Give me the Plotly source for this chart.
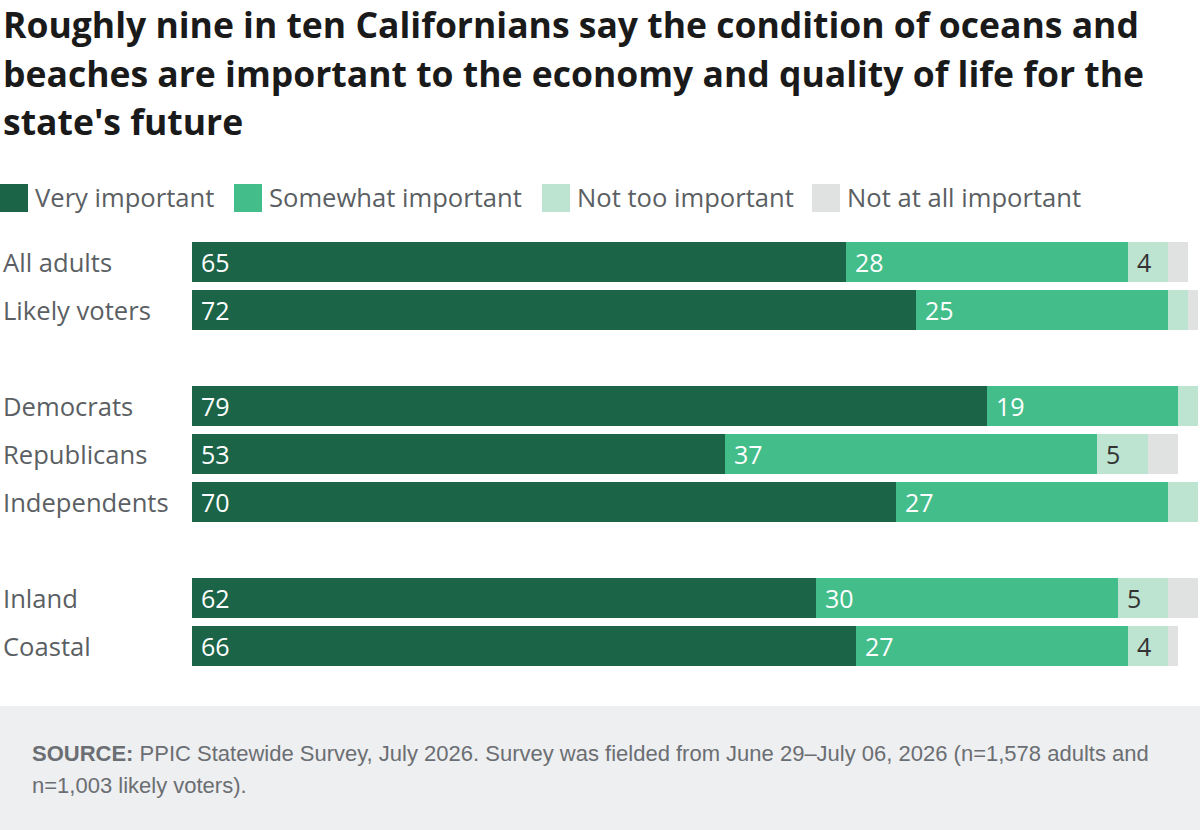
import plotly.graph_objects as go

categories = ["All adults", "Likely voters", "Democrats", "Republicans", "Independents", "Inland", "Coastal"]
row_pos = [0, 1, 3, 4, 5, 7, 8]

series_names = ["Very important", "Somewhat important", "Not too important", "Not at all important"]
very_important = [65, 72, 79, 53, 70, 62, 66]
somewhat_important = [28, 25, 19, 37, 27, 30, 27]
not_too_important = [4, 2, 2, 5, 3, 5, 4]
not_at_all_important = [2, 1, 0, 3, 0, 3, 1]

colors = ["#1b6448", "#43bd8a", "#bde3d1", "#dfe2e1"]
label_colors = ["#ffffff", "#ffffff", "#333333", "#333333"]

title_lines = [
    "Roughly nine in ten Californians say the condition of oceans and",
    "beaches are important to the economy and quality of life for the",
    "state's future",
]
source_lines = [
    "<b>SOURCE:</b> PPIC Statewide Survey, July 2026. Survey was fielded from June 29–July 06, 2026 (n=1,578 adults and",
    "n=1,003 likely voters).",
]

W, H = 1200, 830
ML, MR, MT, MB = 192, 2, 238, 160
PW, PH = W - ML - MR, H - MT - MB


def px(x):
    return (x - ML) / PW


def py(y):
    return (H - MB - y) / PH


FONT = "Open Sans"
TEXT_GRAY = "#5b5f63"

fig = go.Figure()
all_series = [very_important, somewhat_important, not_too_important, not_at_all_important]
for name, vals, col in zip(series_names, all_series, colors):
    fig.add_trace(go.Bar(
        y=row_pos, x=vals, orientation="h", name=name,
        marker=dict(color=col, line=dict(width=0)), width=0.833,
        showlegend=False, hoverinfo="x+name",
    ))

annotations = []
# value labels
for i, pos in enumerate(row_pos):
    base = 0
    for s, vals in enumerate(all_series):
        v = vals[i]
        if v >= 4:
            annotations.append(dict(
                x=base, y=pos, xref="x", yref="y", text=str(v), showarrow=False,
                xanchor="left", yanchor="middle", xshift=7,
                font=dict(family=FONT, size=25, color=label_colors[s]),
            ))
        base += v

# category labels
for cat, pos in zip(categories, row_pos):
    annotations.append(dict(
        x=px(1), y=pos, xref="paper", yref="y", text=cat, showarrow=False,
        xanchor="left", yanchor="middle",
        font=dict(family=FONT, size=25.6, color=TEXT_GRAY),
    ))

# title
for line, yc in zip(title_lines, [24, 72.5, 121]):
    annotations.append(dict(
        x=px(1), y=py(yc), xref="paper", yref="paper", text="<b>" + line + "</b>",
        showarrow=False, xanchor="left", yanchor="middle",
        font=dict(family=FONT, size=35.5, color="#1a1a1a"),
    ))

# legend
shapes = []
legend_sq = [0, 234, 542, 812]
legend_tx = [33, 267, 575, 845]
for name, col, sx, tx in zip(series_names, colors, legend_sq, legend_tx):
    shapes.append(dict(type="rect", xref="paper", yref="paper",
                       x0=px(sx), x1=px(sx + 28), y0=py(212), y1=py(184),
                       fillcolor=col, line=dict(width=0), layer="above"))
    annotations.append(dict(
        x=px(tx), y=py(197), xref="paper", yref="paper", text=name, showarrow=False,
        xanchor="left", yanchor="middle",
        font=dict(family=FONT, size=25.6, color=TEXT_GRAY),
    ))

# footer
shapes.append(dict(type="rect", xref="paper", yref="paper",
                   x0=px(0), x1=px(W), y0=py(H), y1=py(706),
                   fillcolor="#eeeff1", line=dict(width=0), layer="below"))
for line, yc in zip(source_lines, [753, 785]):
    annotations.append(dict(
        x=px(30), y=py(yc), xref="paper", yref="paper", text=line, showarrow=False,
        xanchor="left", yanchor="middle",
        font=dict(family="Liberation Sans", size=22, color="#6b6e72"),
    ))

fig.update_layout(
    width=W, height=H, barmode="stack", bargap=0,
    margin=dict(l=ML, r=MR, t=MT, b=MB, pad=0),
    paper_bgcolor="white", plot_bgcolor="white",
    xaxis=dict(range=[0, 100], visible=False, fixedrange=True),
    yaxis=dict(range=[8.5, -0.5], visible=False, fixedrange=True),
    annotations=annotations, shapes=shapes,
    showlegend=False,
)

fig.write_html("out.html")
